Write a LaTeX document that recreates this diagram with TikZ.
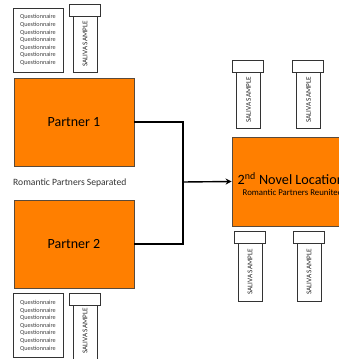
\documentclass[tikz,border=0pt]{standalone}
\usepackage{fontspec}
\setmainfont{Carlito}
\usetikzlibrary{arrows.meta}
\definecolor{boxorange}{HTML}{FF7F00}
\definecolor{boxedge}{HTML}{5A4A3A}
\begin{document}
\begin{tikzpicture}[x=1pt,y=-1pt,
  orangebox/.style={draw=boxedge,fill=boxorange,line width=0.8pt,inner sep=0pt},
  qbox/.style={draw=black!80,line width=0.6pt,minimum width=50pt,minimum height=64pt,inner sep=0pt,align=center,
    font=\fontsize{6.2}{7.6}\selectfont,text=black!75},
  tubecap/.style={draw=black!80,line width=0.6pt,fill=white,minimum width=31pt,minimum height=12pt,inner sep=0pt},
  tubebody/.style={draw=black!80,line width=0.6pt,fill=white,minimum width=24pt,inner sep=0pt},
  tubetext/.style={rotate=90,font=\fontsize{7.2}{8}\selectfont,text=black!85,inner sep=0pt},
  conn/.style={line width=1.4pt,black}]
\useasboundingbox (0,0) rectangle (339,359);
\clip (0,0) rectangle (339,359);
% main boxes
\node[orangebox,minimum width=120pt,minimum height=88pt,font=\fontsize{14}{16}\selectfont] (p1) at (74,122) {Partner 1};
\node[orangebox,minimum width=120pt,minimum height=88pt,font=\fontsize{14}{16}\selectfont] (p2) at (74,244) {Partner 2};
\node[font=\fontsize{9.6}{11}\selectfont,text=black!80,anchor=west,inner sep=0pt] (sep) at (13,183) {Romantic Partners Separated};
\node[orangebox,minimum width=120pt,minimum height=89pt] (novel) at (292,181.5) {};
\node[anchor=west,inner sep=0pt,font=\fontsize{14.2}{16}\selectfont] (novt) at (237.5,178.5) {2\textsuperscript{nd} Novel Location};
\node[anchor=west,inner sep=0pt,font=\fontsize{8.8}{10}\selectfont] (novs) at (242.5,192) {Romantic Partners Reunited};
% connectors
\coordinate (j) at (183,182);
\draw[conn] (p1.east) -| (j);
\draw[conn] (p2.east) -| (j);
\draw[conn,-{Stealth[length=6pt,width=6pt]}] (j) -- (novel.west);
% questionnaires
\node[qbox] (q1) at (38,40) {Questionnaire\\Questionnaire\\Questionnaire\\Questionnaire\\Questionnaire\\Questionnaire\\Questionnaire};
\node[qbox] (q2) at (38,325.5) {Questionnaire\\Questionnaire\\Questionnaire\\Questionnaire\\Questionnaire\\Questionnaire\\Questionnaire};
% tubes: top-left
\node[tubebody,minimum height=56pt] (t1b) at (85,44) {};
\node[tubetext] (t1t) at (t1b.center) {SALIVA SAMPLE};
\node[tubecap] (t1c) at (84.5,10) {};
% bottom-left
\node[tubebody,minimum height=60pt] (t2b) at (85,335) {};
\node[tubetext] (t2t) at (85,331) {SALIVA SAMPLE};
\node[tubecap] (t2c) at (84.5,299.5) {};
% right top
\node[tubebody,minimum height=56pt] (t3b) at (248.5,100) {};
\node[tubetext] (t3t) at (t3b.center) {SALIVA SAMPLE};
\node[tubecap] (t3c) at (248,66) {};
\node[tubebody,minimum height=56pt] (t4b) at (308.5,100) {};
\node[tubetext] (t4t) at (t4b.center) {SALIVA SAMPLE};
\node[tubecap] (t4c) at (308,66) {};
% right bottom
\node[tubebody,minimum height=58pt] (t5b) at (250,272) {};
\node[tubetext] (t5t) at (t5b.center) {SALIVA SAMPLE};
\node[tubecap] (t5c) at (249.5,237.5) {};
\node[tubebody,minimum height=58pt] (t6b) at (309,272) {};
\node[tubetext] (t6t) at (t6b.center) {SALIVA SAMPLE};
\node[tubecap] (t6c) at (308.5,237.5) {};
\end{tikzpicture}
\end{document}
